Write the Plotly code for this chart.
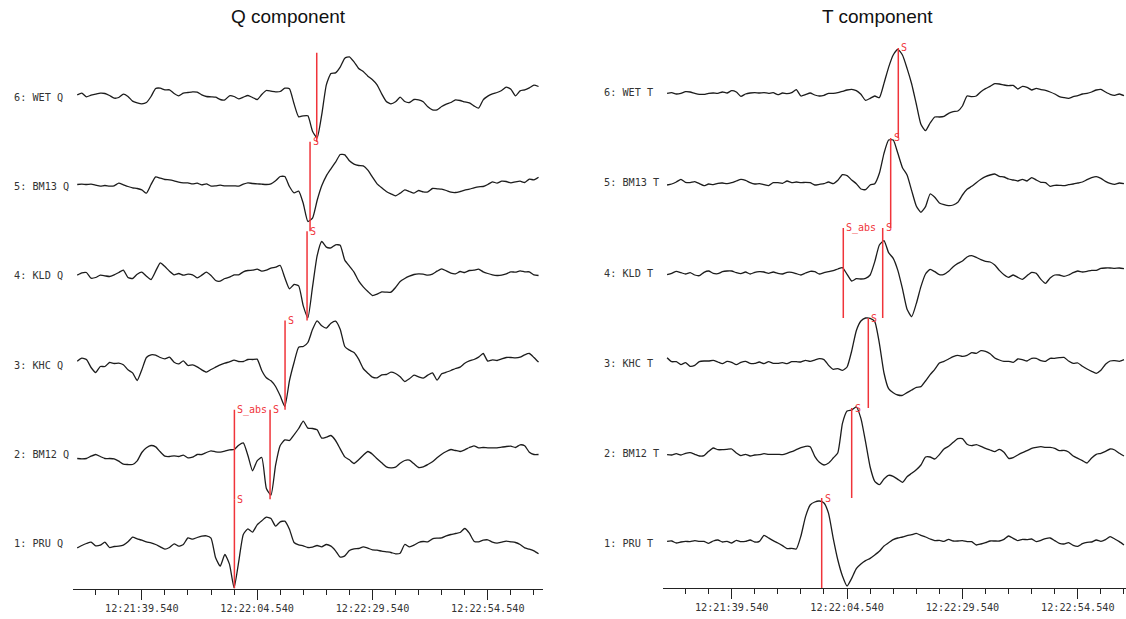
import plotly.graph_objects as go

# ---------------- data ----------------
# time axis: seconds relative to 12:21:39.540, uniform sampling
T_START = -14.0
DT = 1.0
TICK_VALS = [0, 25, 50, 75]
TICK_TEXT = ["12:21:39.540", "12:22:04.540", "12:22:29.540", "12:22:54.540"]

STATIONS = ["PRU", "BM12", "KHC", "KLD", "BM13", "WET"]   # trace 1..6

# Q component amplitudes (arbitrary counts, positive up)
Q_PRU = [-12, -5, 1, 5, -6, -4, 5, -11, -8, -7, -4, 6, 20, 15,
         11, 6, 3, -2, -9, -16, -11, 0, -7, -2,
         18, 14, 19, 23, 24, 17, -42, -67, -32, -61,
         -132, -54, 28, 45, 35, 57, 69, 80, 76, 53,
         66, 68, 44, 4, -3, -6, -11, -10, -5, -9,
         -2, -7, -21, -40, -36, -20, -15, -14, -9, -13,
         -18, -19, -22, -24, -26, -30, -28, -2, -9, -4,
         4, 7, 6, 15, 17, 18, 24, 28, 31, 34,
         46, 32, 8, 6, 11, 12, 5, 2, 5, 8,
         6, 4, -2, -12, -16, -21, -30]
Q_BM12 = [-12, -13, -12, -5, 0, -6, -12, -12, -13, -20, -29, -30, -30, -19,
          6, 20, 27, 23, 8, -5, -6, -4, -6, -2,
          -10, -8, 0, 0, 6, 11, 8, 7, 10, 14,
          15, 28, 35, -3, -49, -19, -9, -102, -122, -32,
          27, 44, 42, 59, 78, 100, 79, 78, 74, 49,
          52, 57, 42, 17, -7, -16, -27, -16, -2, 9,
          1, -13, -25, -37, -40, -38, -26, -18, -17, -28,
          -39, -37, -30, -22, -10, 1, 9, 15, 12, 9,
          14, 21, 26, 20, 21, 20, 20, 20, 22, 24,
          25, 21, 29, 26, 7, 0, 0]
Q_KHC = [12, 21, 17, -7, -22, -4, -4, 8, 5, 6, 1, -14, -23, -46,
         -14, 23, 31, 30, 23, 19, 24, 9, 4, 13,
         -1, 1, -5, -14, -21, -13, -6, 1, 6, 10,
         15, 11, 11, 17, 17, 18, -16, -38, -47, -64,
         -92, -124, -47, 8, 54, 56, 68, 107, 133, 118,
         111, 126, 132, 108, 56, 45, 38, 18, -10, -24,
         -36, -38, -29, -28, -21, -25, -35, -49, -41, -30,
         -35, -39, -30, -23, -45, -26, -21, -16, -10, -6,
         6, 13, 17, 24, 35, 12, 16, 14, 19, 23,
         23, 22, 24, 31, 35, 23, 9]
Q_KLD = [2, 9, 10, -7, -5, 2, 0, -2, 3, 10, 17, -5, -8, 5,
         11, -1, -11, 14, 39, 28, 14, 3, 7, 2,
         5, 3, -6, 2, 11, 1, -14, -16, -8, -4,
         3, 3, 12, 16, 17, 20, 14, 17, 23, 26,
         31, -6, -39, -26, -30, -90, -126, -34, 60, 103,
         86, 84, 93, 92, 47, 29, 11, -15, -33, -47,
         -59, -55, -48, -49, -49, -35, -17, -8, -1, 4,
         6, 5, 2, 5, 14, 21, 15, 8, 6, 13,
         10, 16, 17, 20, 12, 7, 3, 1, 2, 6,
         12, 11, 15, 12, 12, 3, 1]
Q_BM13 = [6, 7, 6, 7, 4, 1, 3, 1, 2, 10, 5, 0, -4, -6,
          -10, -20, 6, 29, 25, 21, 20, 17, 13, 11,
          11, 8, 10, 5, 8, 1, 2, 4, 2, 2,
          2, 1, 7, 11, 9, 8, 7, 6, 8, 17,
          30, 30, 0, -19, -14, -51, -105, -95, -42, 2,
          32, 53, 73, 96, 95, 77, 67, 63, 62, 49,
          28, 8, -4, -15, -22, -28, -20, -10, -15, -20,
          -12, -16, -16, -6, -7, -8, -12, -17, -18, -15,
          -11, -8, -4, -1, 0, 6, 14, 10, 16, 15,
          11, 14, 16, 12, 22, 20, 28]
Q_WET = [7, 12, 1, 6, 9, 12, 11, 5, -3, -1, 9, 2, -12, -17,
         -20, -16, 2, 26, 27, 22, 22, 11, 4, 12,
         14, 16, 15, 7, 2, 1, 0, -7, -8, 4,
         2, -5, 0, 5, -1, -7, 8, 20, 18, 16,
         17, 27, 25, -20, -59, -56, -56, -102, -122, -53,
         37, 71, 73, 90, 117, 121, 106, 86, 77, 63,
         52, 37, 10, -13, -20, -14, 0, -13, -16, -7,
         -8, -14, -29, -38, -38, -28, -21, -16, -8, -10,
         -14, -17, -26, -33, -8, 3, 10, 14, 20, 30,
         24, 4, 19, 22, 28, 36, 32]

# T component amplitudes
T_PRU = [5, 6, 0, 3, 5, 4, 7, 5, 5, -1, 6, 9, 3, 5,
         0, 8, 4, 5, 9, 3, 5, 23, 15, 7,
         0, -8, -17, -16, -18, 21, 79, 114, 123, 126,
         120, 88, 14, -51, -99, -129, -106, -77, -63, -53,
         -46, -36, -25, -9, 1, 10, 15, 18, 22, 25,
         29, 23, 18, 12, 7, 8, 5, 11, 6, 6,
         7, 4, 4, -6, -3, 1, 6, 6, 6, 11,
         21, 14, 7, 11, 10, 12, 4, 8, 13, 15,
         7, -1, -3, 1, -7, -10, -2, 2, 3, 9,
         5, 10, 19, 12, 4, -6]
T_BM12 = [-5, -6, -2, -6, -1, 1, -4, -9, -8, 5, 15, 10, 10, 11,
          12, 0, -8, -4, -9, -6, -5, -2, -4, -4,
          -4, -5, -1, 4, 10, 16, 20, 19, -10, -28,
          -36, -30, -15, 1, 89, 126, 129, 138, 104, 34,
          -42, -85, -95, -78, -67, -70, -79, -88, -71, -61,
          -50, -36, -12, -12, -18, -5, 12, 20, 32, 43,
          43, 26, 22, 25, 20, 14, 9, 4, 11, 2,
          -16, -14, -6, 1, 7, 14, 17, 19, 17, 17,
          14, 7, 8, 3, -9, -16, -23, -30, -15, -4,
          -1, 5, 12, 9, -1, -9]
T_KHC = [16, 4, 4, -5, 1, -10, -7, 4, 6, 6, 8, 3, -2, 5,
         2, -5, 2, 5, -1, -1, 3, -2, 4, -1,
         -1, 1, -2, 4, 4, 3, 8, 5, 9, 13,
         10, -7, -19, -17, -22, -12, 36, 97, 126, 135,
         134, 124, 59, -30, -77, -89, -96, -97, -89, -81,
         -73, -71, -54, -35, -19, 0, 5, 12, 19, 23,
         20, 23, 31, 29, 37, 35, 28, 15, 9, 5,
         5, 2, 12, 10, 6, 14, 14, 7, 5, 14,
         14, 16, 17, 6, -1, 0, -10, -18, -25, -31,
         -22, -4, 6, 7, 5, 10]
T_KLD = [-5, -1, 5, 1, -3, 1, -6, -8, 2, 6, -1, -2, 4, 6,
         6, 1, -2, 3, -3, 2, 4, 3, -1, 3,
         -1, -3, 2, 2, -2, -6, 0, 5, 4, -3,
         1, 4, 7, 12, 16, -4, -24, -17, -18, -16,
         -6, 34, 84, 97, 61, 44, 8, -47, -109, -131,
         -92, -41, -3, 11, 4, -5, -4, 5, 19, 29,
         36, 48, 52, 47, 40, 35, 33, 24, 8, -5,
         -13, -6, -13, -19, -8, 2, -1, -19, -31, -15,
         -6, -6, -10, -6, 1, 6, 3, 5, 8, 8,
         14, 15, 15, 14, 15, 13]
T_BM13 = [-6, -3, 3, 11, 2, 1, 4, -2, -8, -3, -5, -1, 0, -2,
          1, 6, 11, 8, 1, -3, -2, -5, -8, 1,
          1, -1, 6, 1, 3, 1, 2, 1, -6, -4,
          -2, 3, -2, 8, 25, 22, 9, -2, -18, -20,
          -6, -2, 29, 89, 129, 129, 89, 46, 24, -23,
          -69, -88, -71, -33, -43, -60, -65, -68, -66, -58,
          -36, -19, -10, 1, 11, 19, 24, 27, 20, 18,
          12, 9, 6, 11, 6, 16, 9, 2, 1, -10,
          -7, -7, -8, -5, -3, 0, 3, 10, 16, 19,
          14, 5, -1, -4, 0, -2]
T_WET = [-1, 1, -3, -1, 4, 3, -1, -4, -4, -1, 0, -1, 3, 0,
         7, 3, -10, -3, 0, 1, 0, 1, -1, 1,
         -5, 0, -2, 1, 10, -9, -5, 0, -6, -9,
         -7, -1, -1, 1, 5, 9, 11, 7, -4, -22,
         -16, -9, -14, 29, 77, 114, 131, 114, 74, 27,
         -33, -94, -113, -90, -72, -72, -70, -61, -56, -54,
         -39, -9, -11, -9, 4, 13, 20, 28, 27, 24,
         22, 23, 12, 20, 17, 9, 14, 10, 8, 3,
         -3, -11, -14, -16, -11, -8, -3, -1, 3, 9,
         11, 3, -4, -7, -3, -8]

# phase picks: (trace number, phase label, time in s)
Q_PICK_TRACE = [6, 5, 4, 3, 2, 2, 1]
Q_PICK_PHASE = ["", "S", "S", "S", "S_abs", "S", "S"]
Q_PICK_TIME = [37.92, 36.47, 35.82, 31.05, 20.07, 27.80, 20.07]

T_PICK_TRACE = [6, 5, 4, 4, 3, 2, 1]
T_PICK_PHASE = ["S", "S", "S_abs", "S", "S", "S", "S"]
T_PICK_TIME = [36.10, 34.45, 24.18, 32.72, 29.60, 26.00, 19.50]

# ---------------- figure ----------------
W, H = 1126, 619
MONO = "DejaVu Sans Mono, Liberation Mono, monospace"
WAVE_COLOR = "#1c1c1c"
PICK_COLOR = "#f0343a"

panels = [
    dict(comp="Q", traces=[Q_PRU, Q_BM12, Q_KHC, Q_KLD, Q_BM13, Q_WET],
         picks=(Q_PICK_TRACE, Q_PICK_PHASE, Q_PICK_TIME),
         xa="x", ya="y", gain=268.0, label_x=12 / W),
    dict(comp="T", traces=[T_PRU, T_BM12, T_KHC, T_KLD, T_BM13, T_WET],
         picks=(T_PICK_TRACE, T_PICK_PHASE, T_PICK_TIME),
         xa="x2", ya="y2", gain=270.0, label_x=602 / W),
]

fig = go.Figure()
annotations = []

for p in panels:
    for k, vals in enumerate(p["traces"], start=1):
        xs = [T_START + i * DT for i in range(len(vals))]
        ys = [k + v / p["gain"] for v in vals]
        fig.add_trace(go.Scatter(x=xs, y=ys, mode="lines",
                                 line=dict(color=WAVE_COLOR, width=1.3,
                                           shape="spline", smoothing=0.5),
                                 xaxis=p["xa"], yaxis=p["ya"],
                                 hoverinfo="skip", showlegend=False,
                                 cliponaxis=False))
        annotations.append(dict(
            xref="paper", yref=p["ya"], x=p["label_x"], y=k,
            text=f"{k}: {STATIONS[k - 1]} {p['comp']}", showarrow=False,
            xanchor="left", yanchor="middle",
            font=dict(family=MONO, size=10.2, color="#333333")))
    tr, ph, tm = p["picks"]
    for k, lab, t in zip(tr, ph, tm):
        fig.add_trace(go.Scatter(x=[t, t], y=[k - 0.5, k + 0.5], mode="lines",
                                 line=dict(color=PICK_COLOR, width=1.5),
                                 xaxis=p["xa"], yaxis=p["ya"],
                                 hoverinfo="skip", showlegend=False))
        if lab:
            annotations.append(dict(
                xref=p["xa"], yref=p["ya"], x=t, y=k + 0.5, text=lab,
                showarrow=False, xanchor="left", yanchor="middle", xshift=1,
                font=dict(family=MONO, size=10, color=PICK_COLOR)))

TITLE_FONT = dict(family="Liberation Sans, Arial, sans-serif", size=19, color="#111111")
annotations.append(dict(xref="paper", yref="paper", x=288 / W, y=1 - 17 / H,
                        text="Q component", showarrow=False, xanchor="center",
                        yanchor="middle", font=TITLE_FONT))
annotations.append(dict(xref="paper", yref="paper", x=877.5 / W, y=1 - 17 / H,
                        text="T component", showarrow=False, xanchor="center",
                        yanchor="middle", font=TITLE_FONT))

def xaxis_style(domain, rng, anchor):
    return dict(domain=domain, range=rng, anchor=anchor,
                showline=True, linecolor="#222222", linewidth=1,
                ticks="outside", ticklen=10, tickwidth=1, tickcolor="#222222",
                tickmode="array", tickvals=TICK_VALS, ticktext=TICK_TEXT,
                tickfont=dict(family=MONO, size=10.2, color="#333333"),
                showgrid=False, zeroline=False, fixedrange=True,
                minor=dict(dtick=5, tick0=0, ticks="outside", ticklen=5,
                           tickwidth=1, tickcolor="#222222", showgrid=False))

def yaxis_style(domain, anchor):
    return dict(domain=domain, range=[0.5, 6.5], anchor=anchor, visible=False,
                showgrid=False, zeroline=False, fixedrange=True)

fig.update_layout(
    width=W, height=H,
    margin=dict(l=0, r=0, t=0, b=0),
    paper_bgcolor="white", plot_bgcolor="white",
    xaxis=xaxis_style([73.3 / W, 542.7 / W], [-14.85, 86.9], "y"),
    yaxis=yaxis_style([(H - 588.5) / H, (H - 52.5) / H], "x"),
    xaxis2=xaxis_style([663.3 / W, 1.0], [-14.82, 85.44], "y2"),
    yaxis2=yaxis_style([(H - 588.0) / H, (H - 48.0) / H], "x2"),
    annotations=annotations,
    showlegend=False,
)

fig.write_html(
    "out.html",
    config={"displayModeBar": False},
    post_script="document.body.style.margin='0';document.body.style.overflow='hidden';",
)
